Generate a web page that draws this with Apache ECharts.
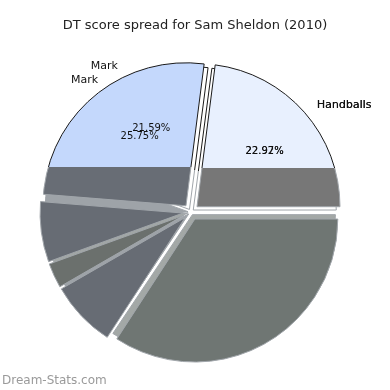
<!DOCTYPE html>
<html><head><meta charset="utf-8">
<script src="https://cdn.jsdelivr.net/npm/echarts@6/dist/echarts.min.js"></script>
<style>html,body{margin:0;padding:0;background:#fff}#c{width:390px;height:390px}</style>
</head><body><div id="c"></div>
<script>
const titleText = 'DT score spread for Sam Sheldon (2010)';
const watermark = 'Dream-Stats.com';
const categories = ['Handballs', 'Mark', 'Tackles', 'Free Kicks', 'Hitouts', 'Kicks'];
const valuesA = [22.92, 21.59, 7.60, 5.00, 8.50, 34.39];
const valuesB = [22.97, 25.75, 6.80, 2.80, 7.50, 34.18];

const FONT = 'DejaVu Sans';
const SPLIT = 173 / 390;
function split(top, bottom) {
  return new echarts.graphic.LinearGradient(0, 0, 0, 390, [
    {offset: 0, color: top}, {offset: SPLIT, color: top},
    {offset: SPLIT, color: bottom}, {offset: 1, color: bottom}], true);
}
const CLEAR = 'rgba(0,0,0,0)';
const fillsA = [CLEAR, CLEAR, '#9ea3a8', '#a2a7a5', '#9ea3a8', '#a3a8a6'];
const fillsB = [split('#e8f0fe', '#777777'), split('#c4d8fc', '#686d75'), '#676c74', '#6b706d', '#676c74', '#6f7673'];

function slicePie(values, fills, offset, z) {
  return {
    type: 'pie', center: [191, 212], radius: 143, startAngle: 0, clockwise: false,
    selectedMode: 'multiple', selectedOffset: offset, animation: false, silent: true, z: z,
    label: {show: false}, labelLine: {show: false}, emphasis: {disabled: true},
    data: values.map((v, i) => ({
      name: categories[i], value: v, selected: true,
      itemStyle: {color: fills[i], borderColor: split('#1a1a1a', '#a0a5aa'), borderWidth: 1}
    }))
  };
}
function labelPie(values, show, kind, center, r, size, offset, z) {
  return {
    type: 'pie', center: center, radius: r, startAngle: 0, clockwise: false,
    silent: true, animation: false, z: z, avoidLabelOverlap: false,
    labelLayout: {hideOverlap: false},
    emphasis: {disabled: true}, labelLine: {show: false},
    itemStyle: {color: CLEAR, borderWidth: 0},
    label: {
      show: true, position: 'inside', fontFamily: FONT, fontSize: size, color: '#111', offset: offset,
      formatter: p => p.name === show ? (kind === 'pct' ? p.percent.toFixed(2) + '%' : p.name) : ''
    },
    data: values.map((v, i) => ({name: categories[i], value: v}))
  };
}
const series = [slicePie(valuesA, fillsA, 3, 1), slicePie(valuesB, fillsB, 8, 2)];
[valuesB, valuesA].forEach((vals, k) => {
  const z = 10 + k;
  series.push(labelPie(vals, 'Handballs', 'pct', [197, 211], 174, 10, [0, 0], z));
  series.push(labelPie(vals, 'Handballs', 'name', [197, 208], 306, 11, [30, 0], z));
  series.push(labelPie(vals, 'Mark', 'pct', [207, 220], 208, 10, [0, 0], z));
  series.push(labelPie(vals, 'Mark', 'name', [198, 220], 354, 11, [0, 0], z));
});

const chart = echarts.init(document.getElementById('c'), null, {renderer: 'canvas'});
chart.setOption({
  animation: false,
  title: [
    {text: titleText, left: 'center', top: 14, textStyle: {fontFamily: FONT, fontSize: 13, fontWeight: 'normal', color: '#222'}},
    {text: watermark, left: -3, bottom: -2, textStyle: {fontFamily: FONT, fontSize: 12, fontWeight: 'normal', color: '#9a9a9a'}}
  ],
  series: series
});
</script></body></html>
